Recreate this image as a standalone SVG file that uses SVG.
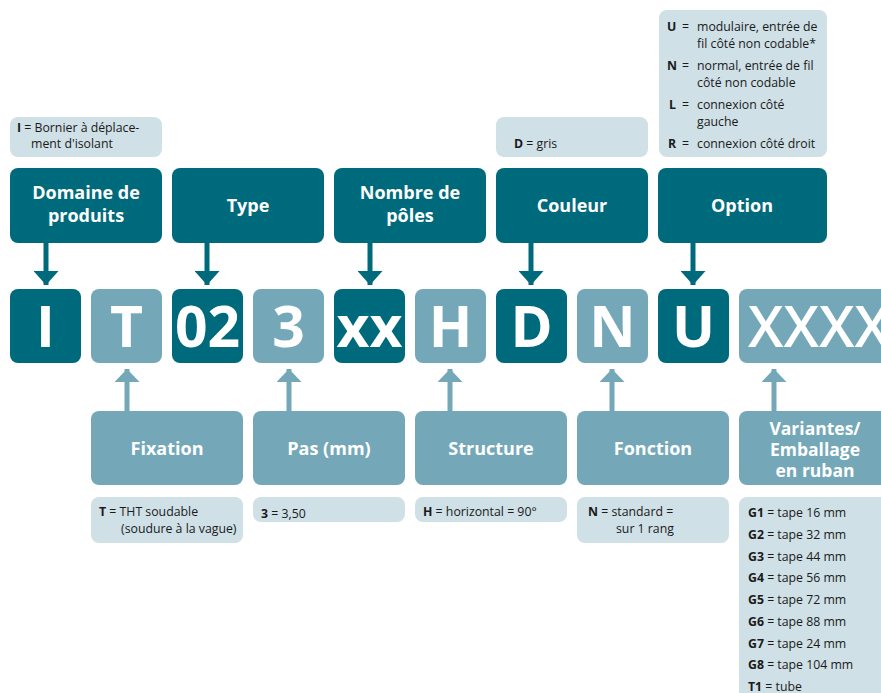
<svg xmlns="http://www.w3.org/2000/svg" width="881" height="693" viewBox="0 0 881 693">
<defs>
<style>
.dk{fill:#006A7D}
.lt{fill:#74A8B8}
.inf{fill:#CFE0E7}
.hd{font-family:"Open Sans","Noto Sans",sans-serif;font-weight:700;font-size:18px;fill:#fff;text-anchor:middle}
.big{font-family:"Open Sans","Noto Sans",sans-serif;font-weight:700;font-size:57px;fill:#fff;text-anchor:middle}
.t{font-family:"Open Sans","Noto Sans",sans-serif;font-size:12.3px;fill:#1a1a1a}
.b{font-weight:700}
.ad{stroke:#006A7D;stroke-width:5;fill:none}
.al{stroke:#74A8B8;stroke-width:5;fill:none}
</style>
<marker id="mdk" viewBox="0 0 10 10" refX="10" refY="5" markerWidth="2.8" markerHeight="5" orient="auto" markerUnits="strokeWidth" preserveAspectRatio="none"><path d="M0,0L10,5L0,10Z" fill="#006A7D"/></marker>
<marker id="mlt" viewBox="0 0 10 10" refX="10" refY="5" markerWidth="2.6" markerHeight="5" orient="auto" markerUnits="strokeWidth" preserveAspectRatio="none"><path d="M0,0L10,5L0,10Z" fill="#74A8B8"/></marker>
</defs>
<rect width="881" height="693" fill="#fff"/>

<!-- info boxes top -->
<g id="info-I">
<rect class="inf" x="10" y="117" width="152" height="40" rx="8"/>
<text class="t" x="17" y="132"><tspan class="b">I</tspan> = Bornier à déplace-</text>
<text class="t" x="31" y="148">ment d'isolant</text>
</g>
<g id="info-D">
<rect class="inf" x="496" y="117" width="152" height="40" rx="8"/>
<text class="t" x="514" y="148"><tspan class="b">D</tspan> =  gris</text>
</g>
<g id="info-option">
<rect class="inf" x="659" y="10" width="168" height="147" rx="8"/>
<g class="t">
<text x="667" y="31" class="b">U</text><text x="682" y="31">=</text><text x="697" y="31">modulaire, entrée de</text>
<text x="697" y="48">fil côté non codable*</text>
<text x="667" y="70" class="b">N</text><text x="682" y="70">=</text><text x="697" y="70">normal, entrée de fil</text>
<text x="697" y="87">côté non codable</text>
<text x="669" y="109" class="b">L</text><text x="682" y="109">=</text><text x="697" y="109">connexion côté</text>
<text x="697" y="126">gauche</text>
<text x="668" y="148" class="b">R</text><text x="682" y="148">=</text><text x="697" y="148">connexion côté droit</text>
</g>
</g>

<!-- header boxes -->
<g id="h-domaine"><rect class="dk" x="10" y="168" width="152" height="75" rx="8"/><text class="hd" x="86" y="199">Domaine de</text><text class="hd" x="86" y="222">produits</text></g>
<g id="h-type"><rect class="dk" x="172" y="168" width="152" height="75" rx="8"/><text class="hd" x="248" y="212">Type</text></g>
<g id="h-nombre"><rect class="dk" x="334" y="168" width="152" height="75" rx="8"/><text class="hd" x="410" y="199">Nombre de</text><text class="hd" x="410" y="222">pôles</text></g>
<g id="h-couleur"><rect class="dk" x="496" y="168" width="152" height="75" rx="8"/><text class="hd" x="572" y="212">Couleur</text></g>
<g id="h-option"><rect class="dk" x="658" y="168" width="169" height="75" rx="8"/><text class="hd" x="742" y="212">Option</text></g>

<!-- letter boxes -->
<g id="c-I"><rect class="dk" x="10" y="289" width="71" height="74" rx="8"/><text class="big" x="45.5" y="347">I</text></g>
<g id="c-T"><rect class="lt" x="91" y="289" width="71" height="74" rx="8"/><text class="big" x="126.5" y="347">T</text></g>
<g id="c-02"><rect class="dk" x="172" y="289" width="71" height="74" rx="8"/><text class="big" x="207.5" y="347">02</text></g>
<g id="c-3"><rect class="lt" x="253" y="289" width="71" height="74" rx="8"/><text class="big" x="288.5" y="347">3</text></g>
<g id="c-xx"><rect class="dk" x="334" y="289" width="71" height="74" rx="8"/><text class="big" x="369.5" y="347">xx</text></g>
<g id="c-H"><rect class="lt" x="415" y="289" width="71" height="74" rx="8"/><text class="big" x="450.5" y="347">H</text></g>
<g id="c-D"><rect class="dk" x="496" y="289" width="71" height="74" rx="8"/><text class="big" x="531.5" y="347">D</text></g>
<g id="c-N"><rect class="lt" x="577" y="289" width="71" height="74" rx="8"/><text class="big" x="612.5" y="347">N</text></g>
<g id="c-U"><rect class="dk" x="658" y="289" width="71" height="74" rx="8"/><text class="big" x="693.5" y="347">U</text></g>
<g id="c-XXXX"><rect class="lt" x="739" y="289" width="160" height="74" rx="8"/><text class="big" x="748" y="347" style="text-anchor:start;font-weight:600">XXXX</text></g>

<!-- bottom header boxes -->
<g id="b-fixation"><rect class="lt" x="91" y="411" width="152" height="74" rx="8"/><text class="hd" x="167" y="455">Fixation</text></g>
<g id="b-pas"><rect class="lt" x="253" y="411" width="152" height="74" rx="8"/><text class="hd" x="329" y="455">Pas (mm)</text></g>
<g id="b-structure"><rect class="lt" x="415" y="411" width="152" height="74" rx="8"/><text class="hd" x="491" y="455">Structure</text></g>
<g id="b-fonction"><rect class="lt" x="577" y="411" width="152" height="74" rx="8"/><text class="hd" x="653" y="455">Fonction</text></g>
<g id="b-variantes"><rect class="lt" x="739" y="411" width="160" height="74" rx="8"/><text class="hd" x="815" y="435" style="font-size:17.5px">Variantes/</text><text class="hd" x="815" y="456" style="font-size:17.5px">Emballage</text><text class="hd" x="815" y="477" style="font-size:17.5px">en ruban</text></g>

<!-- bottom info boxes -->
<g id="info-T"><rect class="inf" x="91" y="497" width="152" height="46" rx="8"/>
<text class="t" x="99" y="516"><tspan class="b">T</tspan> = THT soudable</text>
<text class="t" x="121" y="533">(soudure à la vague)</text></g>
<g id="info-3"><rect class="inf" x="253" y="497" width="152" height="25" rx="8"/>
<text class="t" x="261" y="518"><tspan class="b">3</tspan> = 3,50</text></g>
<g id="info-H"><rect class="inf" x="415" y="497" width="152" height="25" rx="8"/>
<text class="t" x="423" y="516"><tspan class="b">H</tspan> =  horizontal = 90°</text></g>
<g id="info-N"><rect class="inf" x="577" y="497" width="152" height="46" rx="8"/>
<text class="t" x="588" y="516"><tspan class="b">N</tspan> =  standard =</text>
<text class="t" x="616" y="533">sur 1 rang</text></g>
<g id="info-G"><rect class="inf" x="739" y="497" width="160" height="220" rx="8"/>
<g class="t">
<text x="748" y="517"><tspan class="b">G1</tspan> = tape 16 mm</text>
<text x="748" y="539"><tspan class="b">G2</tspan> = tape 32 mm</text>
<text x="748" y="561"><tspan class="b">G3</tspan> = tape 44 mm</text>
<text x="748" y="582"><tspan class="b">G4</tspan> = tape 56 mm</text>
<text x="748" y="604"><tspan class="b">G5</tspan> = tape 72 mm</text>
<text x="748" y="626"><tspan class="b">G6</tspan> = tape 88 mm</text>
<text x="748" y="648"><tspan class="b">G7</tspan> = tape 24 mm</text>
<text x="748" y="669"><tspan class="b">G8</tspan> = tape 104 mm</text>
<text x="748" y="691"><tspan class="b">T1</tspan>  = tube</text>
</g></g>

<text class="t" x="2" y="702.6">* entrée de fil côté opposé au pôle (vue de dessus du pôle)</text>

<!-- connectors -->
<g id="connectors">
<line class="ad" x1="46" y1="243" x2="46" y2="285" marker-end="url(#mdk)"/>
<line class="ad" x1="207" y1="243" x2="207" y2="285" marker-end="url(#mdk)"/>
<line class="ad" x1="370" y1="243" x2="370" y2="285" marker-end="url(#mdk)"/>
<line class="ad" x1="531" y1="243" x2="531" y2="285" marker-end="url(#mdk)"/>
<line class="ad" x1="693" y1="243" x2="693" y2="285" marker-end="url(#mdk)"/>
<line class="al" x1="127" y1="411" x2="127" y2="369" marker-end="url(#mlt)"/>
<line class="al" x1="289" y1="411" x2="289" y2="369" marker-end="url(#mlt)"/>
<line class="al" x1="450" y1="411" x2="450" y2="369" marker-end="url(#mlt)"/>
<line class="al" x1="612" y1="411" x2="612" y2="369" marker-end="url(#mlt)"/>
<line class="al" x1="774" y1="411" x2="774" y2="369" marker-end="url(#mlt)"/>
</g>
</svg>
